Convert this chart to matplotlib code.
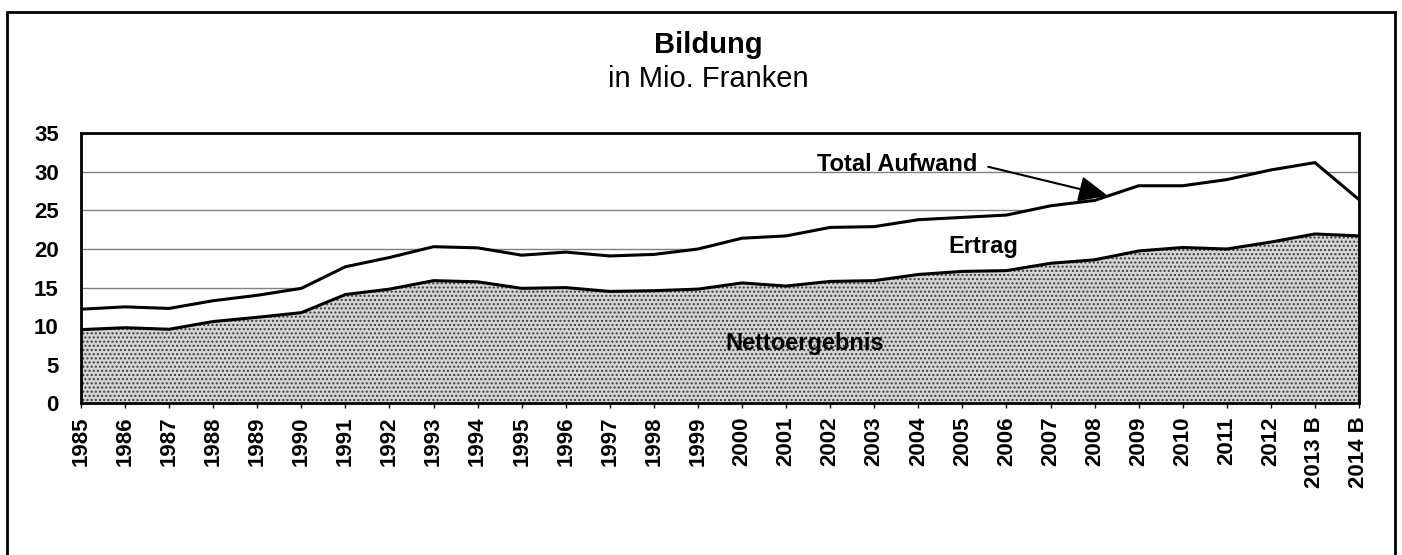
import numpy as np
import matplotlib
matplotlib.use("Agg")
import matplotlib.pyplot as plt
from matplotlib.patches import Rectangle

# ---- Data (Mio. Franken) ---- #
years = ["1985", "1986", "1987", "1988", "1989", "1990", "1991", "1992", "1993",
         "1994", "1995", "1996", "1997", "1998", "1999", "2000", "2001", "2002",
         "2003", "2004", "2005", "2006", "2007", "2008", "2009", "2010", "2011",
         "2012", "2013 B", "2014 B"]
total_aufwand = [12.2, 12.5, 12.3, 13.3, 14.0, 14.9, 17.7, 18.9, 20.3,
                 20.15, 19.2, 19.6, 19.1, 19.3, 20.0, 21.4, 21.7, 22.8,
                 22.9, 23.8, 24.1, 24.4, 25.6, 26.3, 28.2, 28.2, 29.0,
                 30.25, 31.2, 26.4]
nettoergebnis = [9.55, 9.8, 9.6, 10.6, 11.15, 11.75, 14.1, 14.8, 15.9,
                 15.75, 14.9, 15.0, 14.5, 14.6, 14.8, 15.6, 15.2, 15.8,
                 15.9, 16.7, 17.1, 17.2, 18.15, 18.6, 19.75, 20.2, 20.0,
                 20.9, 21.95, 21.7]

plt.rcParams["font.family"] = ["Liberation Sans", "DejaVu Sans"]
plt.rcParams["hatch.linewidth"] = 1.0

W, H = 1402, 555
fig = plt.figure(figsize=(W / 100, H / 100), dpi=100)
ax = fig.add_axes([81 / W, 1 - 403.3 / H, (1359 - 81) / W, 270 / H])

x = np.arange(len(years))
net = np.array(nettoergebnis)
tot = np.array(total_aufwand)

# dotted grey area for Nettoergebnis, white for Ertrag (covers grid)
ax.fill_between(x, 0, net, facecolor="#d4d4d4", linewidth=0, zorder=1)
ax.fill_between(x, 0, net, facecolor="none", edgecolor="#3a3a3a", hatch="....",
                linewidth=0, zorder=1.5)
ax.fill_between(x, net, tot, facecolor="white", linewidth=0, zorder=1)
ax.plot(x, net, color="black", lw=2.2, zorder=3)
ax.plot(x, tot, color="black", lw=2.2, zorder=3)

ax.set_xlim(0, len(years) - 1)
ax.set_ylim(0, 35)
ax.set_yticks(np.arange(0, 36, 5))
ax.set_xticks(x)
ax.set_xticklabels(years, rotation=90, fontsize=16, fontweight="bold")
for lab in ax.get_yticklabels():
    lab.set_fontsize(16)
    lab.set_fontweight("bold")
ax.tick_params(axis="x", direction="out", length=3.5, width=1, pad=6)
ax.tick_params(axis="y", length=0, pad=16)
ax.yaxis.grid(True, color="#808080", lw=1)
ax.set_axisbelow(True)
for sp in ax.spines.values():
    sp.set_linewidth(2)
    sp.set_zorder(4)

# labels in the chart
ax.text(16.43, 7.8, "Nettoergebnis", fontsize=17, fontweight="bold",
        ha="center", va="center", zorder=5)
ax.text(20.47, 20.3, "Ertrag", fontsize=17, fontweight="bold",
        ha="center", va="center", zorder=5)
ax.annotate("Total Aufwand", xy=(23.3, 26.9), xytext=(18.52, 31.0),
            fontsize=17, fontweight="bold", ha="center", va="center", zorder=5,
            arrowprops=dict(arrowstyle="-|>,head_length=0.9,head_width=0.4",
                            color="black", lw=1.5, relpos=(1, 0.5),
                            shrinkA=6, shrinkB=0, mutation_scale=20))

# title
fig.text(708 / W, 1 - 53 / H, "Bildung", fontsize=21, fontweight="bold",
         ha="center", va="baseline")
fig.text(708 / W, 1 - 87 / H, "in Mio. Franken", fontsize=21,
         ha="center", va="baseline")

# outer frame
fig.patches.append(Rectangle((7 / W, -0.05), (1395 - 7) / W, 1.05 - 12 / H,
                             transform=fig.transFigure, fill=False,
                             edgecolor="black", lw=2))

fig.savefig("out.png", dpi=100)
